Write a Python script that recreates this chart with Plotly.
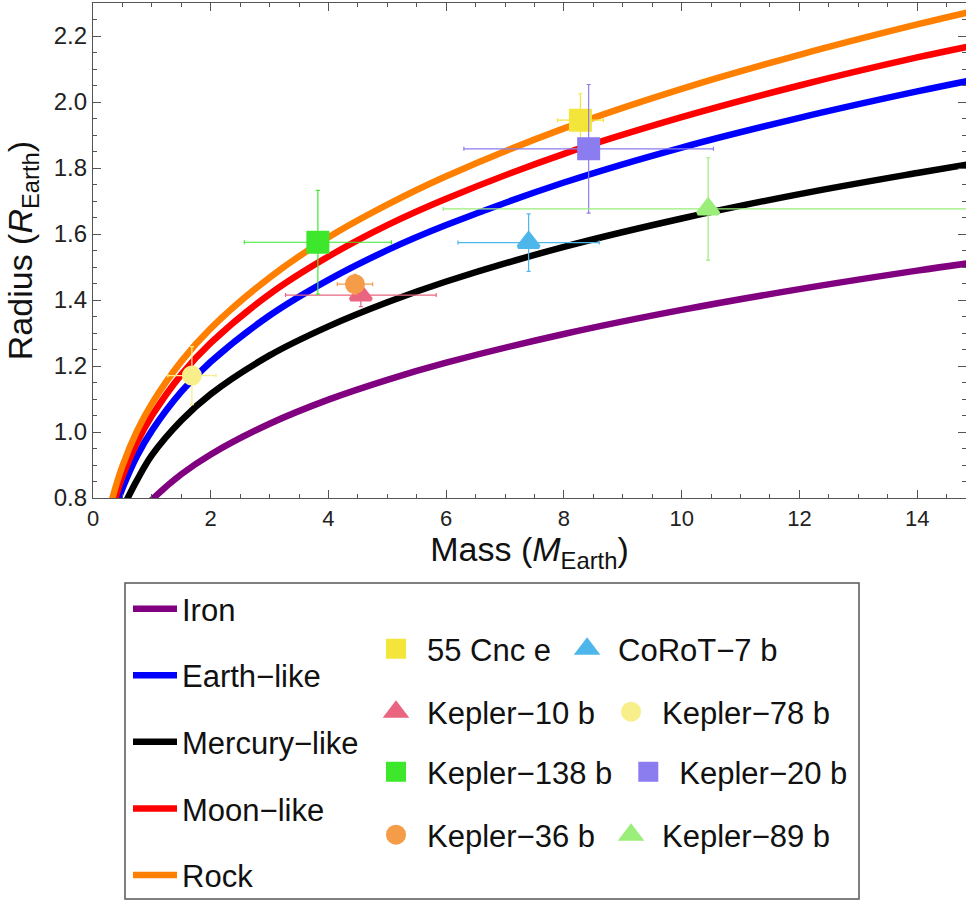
import plotly.graph_objects as go

# --- Theoretical mass-radius curves (mass in Earth masses, radius in Earth radii) ---
iron_mass = [0.95, 1.03, 1.5, 2.0, 3.0, 4.0, 5.0, 6.0, 8.0, 10.0, 12.0, 14.0, 14.9]
iron_radius = [0.785, 0.80, 0.872, 0.932, 1.025, 1.098, 1.158, 1.21, 1.297, 1.370, 1.433, 1.489, 1.512]

earth_mass = [0.40, 0.44, 0.5, 0.75, 1.0, 1.5, 2.0, 3.0, 4.0, 5.0, 6.0, 8.0, 10.0, 12.0, 14.0, 14.9]
earth_radius = [0.779, 0.80, 0.829, 0.928, 1.004, 1.122, 1.213, 1.353, 1.461, 1.551, 1.627,
                1.756, 1.862, 1.952, 2.032, 2.065]

mercury_mass = [0.55, 0.59, 0.75, 1.0, 1.5, 2.0, 3.0, 4.0, 5.0, 6.0, 8.0, 10.0, 12.0, 14.0, 14.9]
mercury_radius = [0.785, 0.80, 0.855, 0.93, 1.035, 1.115, 1.232, 1.320, 1.393, 1.456, 1.561,
                  1.647, 1.721, 1.785, 1.812]

moon_mass = [0.35, 0.38, 0.5, 0.75, 1.0, 1.5, 2.0, 3.0, 4.0, 5.0, 6.0, 8.0, 10.0, 12.0, 14.0, 14.9]
moon_radius = [0.782, 0.80, 0.8645, 0.969, 1.049, 1.174, 1.270, 1.418, 1.532, 1.627, 1.707,
               1.843, 1.954, 2.050, 2.135, 2.169]

rock_mass = [0.30, 0.33, 0.5, 0.75, 1.0, 1.5, 2.0, 3.0, 4.0, 5.0, 6.0, 8.0, 10.0, 12.0, 14.0, 14.9]
rock_radius = [0.778, 0.80, 0.897, 1.004, 1.086, 1.214, 1.314, 1.468, 1.590, 1.689, 1.775,
               1.920, 2.040, 2.143, 2.235, 2.273]

curve_names = ["Iron", "Earth\u2212like", "Mercury\u2212like", "Moon\u2212like", "Rock"]
curve_colors = ["#800080", "#0000FF", "#000000", "#FF0000", "#FF8000"]

# --- Measured planets ---
planet_names = ["55 Cnc e", "CoRoT\u22127 b", "Kepler\u221210 b", "Kepler\u221278 b",
                "Kepler\u2212138 b", "Kepler\u221220 b", "Kepler\u221236 b", "Kepler\u221289 b"]
planet_mass = [8.28, 7.40, 4.55, 1.68, 3.82, 8.42, 4.45, 10.45]
planet_mass_err = [0.39, 1.20, 1.28, 0.41, 1.25, 2.12, 0.30, 4.5]
planet_radius = [1.945, 1.574, 1.415, 1.171, 1.575, 1.858, 1.448, 1.676]
planet_radius_err = [0.08, 0.087, 0.035, 0.088, 0.157, 0.195, 0.03, 0.155]
planet_symbols = ["square", "triangle-up", "triangle-up", "circle",
                  "square", "square", "circle", "triangle-up"]
planet_colors = ["#F3E53A", "#4DB6EA", "#EA6580", "#F8EE8A",
                 "#3DE82C", "#8B7CF0", "#F59C48", "#9BEE7A"]
planet_sizes = {"square": 19, "triangle-up": 18, "circle": 16}

FONT = "Liberation Sans, Arial, sans-serif"
AXIS_COLOR = "#555555"

fig = go.Figure()

curves = [
    (iron_mass, iron_radius),
    (earth_mass, earth_radius),
    (mercury_mass, mercury_radius),
    (moon_mass, moon_radius),
    (rock_mass, rock_radius),
]
for name, color, (m, r) in zip(curve_names, curve_colors, curves):
    fig.add_trace(go.Scatter(
        x=m, y=r, mode="lines", name=name,
        line=dict(color=color, width=6.5, shape="spline", smoothing=1.0),
        legend="legend", legendgroup=name, hoverinfo="skip",
    ))

# planets: two per legend row
for i, name in enumerate(planet_names):
    sym = planet_symbols[i]
    col = planet_colors[i]
    fig.add_trace(go.Scatter(
        x=[planet_mass[i]], y=[planet_radius[i]], mode="markers", name=name,
        marker=dict(symbol=sym, size=planet_sizes[sym], color=col,
                    line=dict(color=col, width=4)),
        error_x=dict(type="data", array=[planet_mass_err[i]], color=col,
                     thickness=1.2, width=2),
        error_y=dict(type="data", array=[planet_radius_err[i]], color=col,
                     thickness=1.2, width=2),
        legend="legend%d" % (2 + i // 2),
    ))

W, H = 966, 904
ML, MR, MT, MB = 93, 0, 3, 406
plot_w = W - ML - MR
plot_h = H - MT - MB


def px_x(px):
    return (px - ML) / plot_w


def px_y(py):
    return (H - MB - py) / plot_h


legend_font = dict(family=FONT, size=31, color="#111111")
common_legend = dict(bgcolor="rgba(0,0,0,0)", borderwidth=0, font=legend_font,
                     itemclick=False, itemdoubleclick=False)

layout_legends = dict(
    legend=dict(x=px_x(128), y=px_y(582), xanchor="left", yanchor="top",
                orientation="v", tracegroupgap=23.3, itemwidth=44, **common_legend),
)
row_centers = [649, 712, 772, 835]
for k, yc in enumerate(row_centers):
    layout_legends["legend%d" % (k + 2)] = dict(
        x=px_x(365), y=px_y(yc), xanchor="left", yanchor="middle",
        orientation="h", itemwidth=52, **common_legend)

fig.update_layout(
    width=W, height=H,
    margin=dict(l=ML, r=MR, t=MT, b=MB, autoexpand=False),
    paper_bgcolor="white", plot_bgcolor="white",
    font=dict(family=FONT, color="#222222"),
    showlegend=True,
    **layout_legends,
    shapes=[dict(type="rect", xref="paper", yref="paper",
                 x0=px_x(125), x1=px_x(859), y0=px_y(583), y1=px_y(899),
                 line=dict(color=AXIS_COLOR, width=1.5), fillcolor="rgba(0,0,0,0)")],
)

fig.update_xaxes(
    range=[0, 14.83], tick0=0, dtick=2, tickmode="linear",
    ticks="inside", ticklen=8, tickwidth=1, tickcolor=AXIS_COLOR,
    minor=dict(ticks="inside", ticklen=4, dtick=0.5, tick0=0, tickcolor=AXIS_COLOR),
    showline=True, linecolor=AXIS_COLOR, linewidth=1.2, mirror="allticks",
    showgrid=False, zeroline=False,
    tickfont=dict(family=FONT, size=22, color="#222222"),
    title=dict(text="Mass (<i>M</i><sub>Earth</sub>)", standoff=6,
               font=dict(family=FONT, size=34, color="#111111")),
)
fig.update_yaxes(
    range=[0.8, 2.30], tick0=0.8, dtick=0.2, tickmode="linear", tickformat=".1f",
    ticks="inside", ticklen=8, tickwidth=1, tickcolor=AXIS_COLOR,
    minor=dict(ticks="inside", ticklen=4, dtick=0.05, tick0=0.8, tickcolor=AXIS_COLOR),
    showline=True, linecolor=AXIS_COLOR, linewidth=1.2, mirror="allticks",
    showgrid=False, zeroline=False,
    tickfont=dict(family=FONT, size=24, color="#222222"),
    title=dict(text="Radius (<i>R</i><sub>Earth</sub>)", standoff=10,
               font=dict(family=FONT, size=34, color="#111111")),
)

fig.write_html("out.html")
